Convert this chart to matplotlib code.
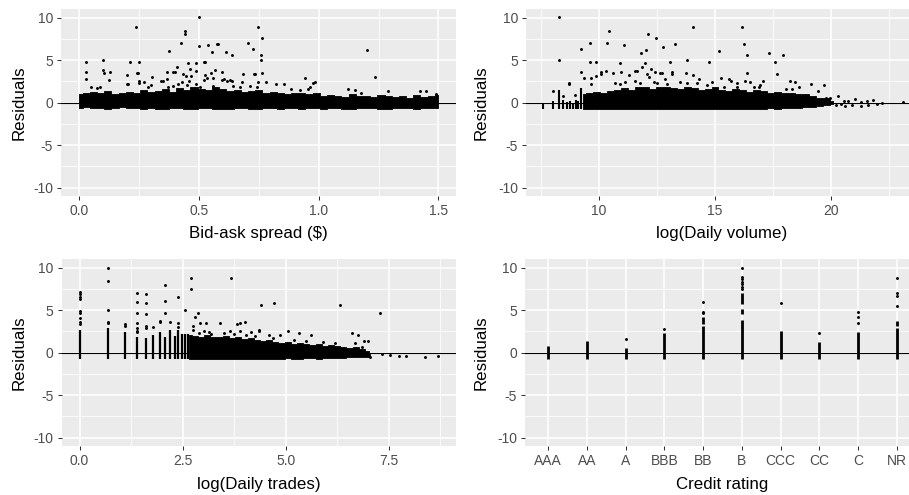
import matplotlib
matplotlib.use("Agg")
import matplotlib.pyplot as plt

plt.rcParams['font.family'] = ['Liberation Sans', 'DejaVu Sans']
plt.rcParams['axes.unicode_minus'] = False

# ---------------- data ----------------
# Bid-ask spread panel: dense band envelope and sparse residuals
spread_band_x = [0.00, 0.03, 0.06, 0.09, 0.12, 0.15, 0.18, 0.21, 0.24, 0.27, 0.30, 0.33, 0.36,
                 0.39, 0.42, 0.45, 0.48, 0.51, 0.54, 0.57, 0.60, 0.63, 0.66, 0.69, 0.72, 0.75,
                 0.78, 0.81, 0.84, 0.87, 0.90, 0.93, 0.96, 0.99, 1.02, 1.05, 1.08, 1.11, 1.14,
                 1.17, 1.20, 1.23, 1.26, 1.29, 1.32, 1.35, 1.38, 1.41, 1.44, 1.47, 1.50]
spread_band_hi = [1.0, 1.2, 1.3, 1.1, 1.4, 1.0, 1.1, 1.3, 1.2, 1.5, 1.3, 1.4, 1.6, 1.3, 1.7,
                  1.5, 1.8, 1.6, 1.5, 1.8, 1.6, 1.4, 1.5, 1.3, 1.4, 1.5, 1.2, 1.3, 1.2, 1.0,
                  1.2, 1.1, 1.0, 1.2, 0.8, 0.9, 0.8, 0.7, 1.0, 0.8, 0.8, 0.7, 0.9, 0.8, 0.7,
                  0.8, 0.6, 0.9, 0.7, 0.8, 0.9]
spread_band_lo = [-0.6, -0.55, -0.6, -0.65, -0.7, -0.6, -0.55, -0.6, -0.65, -0.7, -0.6, -0.75,
                  -0.7, -0.6, -0.65, -0.7, -0.75, -0.65, -0.6, -0.7, -0.75, -0.7, -0.65, -0.6,
                  -0.7, -0.7, -0.6, -0.65, -0.7, -0.6, -0.6, -0.7, -0.65, -0.6, -0.7, -0.65,
                  -0.6, -0.7, -0.7, -0.6, -0.65, -0.6, -0.7, -0.7, -0.6, -0.65, -0.6, -0.7,
                  -0.65, -0.6, -0.6]
spread_x = [0.237, 0.501, 0.444, 0.444, 0.426, 0.376, 0.501, 0.540, 0.575, 0.580, 0.555, 0.615,
            0.640, 0.707, 0.725, 0.745, 0.763, 0.760, 0.760, 0.762, 0.735, 1.202, 1.237, 0.941,
            0.985, 0.975, 0.029, 0.029, 0.029, 0.099, 0.100, 0.105, 0.129, 0.214, 0.250, 0.199,
            0.240, 0.246, 0.250, 0.250, 0.273, 0.306, 0.127, 0.369, 0.394, 0.401, 0.409, 0.433,
            0.456, 0.465, 0.486, 0.488, 0.523, 0.527, 0.526, 0.550, 0.569, 0.597, 0.557, 0.342,
            0.352, 0.369, 0.686, 0.731, 0.628, 0.640, 0.679, 0.468, 0.448, 0.459, 0.522, 0.536,
            0.596, 0.607, 0.617, 0.200, 0.206, 0.050, 0.074, 0.088, 0.288, 0.302, 0.415, 0.429,
            0.488, 1.122, 1.152, 1.177, 1.289, 1.424, 1.448, 1.490, 0.856, 0.821, 0.781, 0.746,
            0.885, 0.923, 0.957, 0.966, 0.370, 0.394, 0.450, 0.505, 0.560, 0.644, 0.672, 0.714,
            0.742]
spread_y = [8.90, 10.05, 8.47, 8.05, 7.02, 6.05, 6.63, 6.75, 6.90, 6.90, 5.93, 5.93,
            5.65, 7.02, 6.32, 8.90, 7.60, 5.60, 5.02, 3.50, 3.38, 6.16, 3.06, 2.90,
            2.40, 2.30, 4.75, 3.65, 2.79, 5.06, 3.80, 3.53, 3.65, 4.75, 4.75, 3.26,
            3.53, 3.53, 2.60, 2.35, 2.43, 3.06, 2.67, 3.65, 3.65, 3.65, 4.16, 3.38,
            4.63, 4.00, 4.63, 3.77, 4.75, 4.75, 3.30, 3.53, 3.80, 3.65, 2.87, 2.60,
            2.60, 2.75, 3.41, 3.41, 2.70, 2.55, 2.40, 3.18, 3.18, 2.60, 2.70, 2.90,
            2.65, 2.80, 2.55, 2.20, 2.25, 1.80, 1.73, 1.88, 1.88, 2.04, 2.20, 2.43,
            2.20, 1.65, 1.49, 1.18, 1.37, 1.37, 1.37, 0.99, 2.20, 2.20, 2.47, 2.47,
            1.65, 1.49, 1.65, 1.81, 1.80, 1.96, 2.08, 1.88, 1.96, 1.96, 1.80, 1.96,
            1.80]

# log(Daily volume) panel
volume_stub_x = [7.59, 8.02, 8.28, 8.45, 8.60, 8.74, 8.89, 9.00, 9.10, 9.21]
volume_stub_hi = [-0.1, 0.25, 1.5, 0.3, 0.1, 0.2, 0.0, 0.3, 0.2, 1.77]
volume_stub_lo = [-0.8, -0.75, -0.75, -0.75, -0.75, -0.75, -0.75, -0.75, -0.75, -0.75]
volume_band_x = [9.3, 9.6, 9.9, 10.2, 10.5, 10.8, 11.1, 11.4, 11.7, 12.0, 12.3, 12.6, 12.9,
                 13.2, 13.5, 13.8, 14.1, 14.4, 14.7, 15.0, 15.3, 15.6, 15.9, 16.2, 16.5, 16.8,
                 17.1, 17.4, 17.7, 18.0, 18.3, 18.6, 18.9, 19.2, 19.5, 19.8, 20.1]
volume_band_hi = [1.0, 1.1, 1.3, 1.2, 1.4, 1.5, 1.7, 1.5, 1.8, 1.9, 1.6, 1.8, 1.9, 1.7, 1.6,
                  1.8, 1.7, 1.5, 1.6, 1.8, 1.5, 1.4, 1.6, 1.5, 1.3, 1.5, 1.4, 1.2, 1.3, 1.2,
                  1.1, 1.0, 1.0, 0.8, 0.6, 0.5, 0.2]
volume_band_lo = [-0.7, -0.75, -0.7, -0.7, -0.75, -0.7, -0.75, -0.75, -0.7, -0.7, -0.75, -0.7,
                  -0.75, -0.75, -0.7, -0.7, -0.75, -0.7, -0.7, -0.75, -0.7, -0.75, -0.7, -0.7,
                  -0.7, -0.75, -0.7, -0.65, -0.7, -0.65, -0.6, -0.6, -0.55, -0.5, -0.4, -0.3,
                  -0.15]
volume_x = [8.28, 8.28, 10.45, 9.21, 9.62, 10.35, 11.08, 12.12, 12.44, 11.81, 12.01, 12.74,
            13.26, 14.04, 13.78, 13.05, 14.74, 9.62, 9.88, 10.92, 11.96, 9.21, 9.36, 9.67,
            9.88, 8.70, 8.72, 10.09, 10.09, 10.30, 10.62, 10.95, 11.30, 11.53, 11.62, 11.86,
            12.07, 12.17, 12.22, 12.43, 12.64, 12.72, 13.16, 13.16, 12.83, 13.76, 14.03, 14.30,
            8.02, 8.45, 8.96, 16.17, 16.23, 15.19, 16.39, 17.33, 17.95, 17.59, 17.69, 16.37,
            15.25, 15.61, 15.71, 17.08, 18.25, 18.47, 19.15, 19.68, 19.45, 18.61, 18.06, 18.32,
            16.69, 16.90, 15.39, 15.93, 15.95, 16.30, 16.50, 16.95, 19.80, 19.98, 20.30, 20.56,
            20.73, 21.05, 21.31, 21.54, 21.82, 22.18, 23.09, 20.45, 20.90, 21.30, 21.60, 22.00,
            20.20, 20.60, 9.65, 10.69, 10.91, 11.13, 11.56, 11.78, 12.36, 12.50, 12.93, 13.51,
            13.80, 14.23, 14.67, 14.89]
volume_y = [10.05, 5.02, 8.44, 6.32, 7.02, 7.02, 6.75, 8.05, 7.57, 5.89, 6.16, 6.59,
            6.90, 8.90, 5.02, 4.75, 4.75, 4.75, 4.75, 4.63, 4.63, 3.65, 2.90, 2.90,
            3.10, 2.35, 2.20, 3.60, 3.33, 3.77, 3.53, 3.65, 3.22, 3.77, 3.77, 4.16,
            3.38, 3.06, 4.00, 3.60, 3.53, 3.53, 3.60, 3.40, 2.75, 3.53, 3.22, 2.75,
            1.37, 0.79, 0.85, 8.90, 6.87, 6.05, 5.61, 5.89, 5.61, 4.75, 3.33, 3.49,
            2.90, 2.75, 2.60, 2.60, 2.60, 2.40, 2.20, 2.08, 1.34, 1.80, 1.60, 1.60,
            1.80, 1.80, 1.80, 1.90, 2.30, 2.50, 2.40, 2.10, 0.51, 0.51, 0.79, 0.24,
            0.24, 0.40, 0.12, 0.24, 0.33, -0.07, 0.12, -0.20, -0.25, -0.35, -0.30, -0.15,
            -0.30, -0.40, 2.20, 2.35, 2.20, 2.47, 2.55, 2.35, 2.47, 2.30, 2.20, 2.47,
            2.30, 2.35, 2.08, 2.47]

# log(Daily trades) panel: one column per small trade count, then a dense band
trades_stub_x = [0.000, 0.693, 1.099, 1.386, 1.609, 1.792, 1.946, 2.079, 2.197, 2.303,
                 2.398, 2.485, 2.565, 2.639]
trades_stub_hi = [2.67, 2.94, 2.47, 1.88, 1.77, 2.08, 2.47, 1.88, 2.63, 1.96, 2.63, 2.20,
                  2.20, 2.25]
trades_stub_lo = [-0.7] * 14
trades_band_x = [2.65, 2.8, 2.95, 3.1, 3.25, 3.4, 3.55, 3.7, 3.85, 4.0, 4.15, 4.3, 4.45, 4.6,
                 4.75, 4.9, 5.05, 5.2, 5.35, 5.5, 5.65, 5.8, 5.95, 6.1, 6.25, 6.4, 6.55, 6.7,
                 6.85, 7.0, 7.05]
trades_band_hi = [2.1, 2.0, 1.9, 2.1, 1.8, 1.9, 2.0, 1.7, 1.8, 1.6, 1.7, 1.5, 1.4, 1.5, 1.3,
                  1.2, 1.3, 1.0, 1.1, 1.0, 0.9, 1.0, 0.8, 0.9, 0.8, 0.7, 0.6, 0.7, 0.4, 0.2,
                  -0.1]
trades_band_lo = [-0.7, -0.75, -0.75, -0.7, -0.7, -0.75, -0.7, -0.7, -0.75, -0.7, -0.7, -0.75,
                  -0.7, -0.7, -0.75, -0.7, -0.65, -0.7, -0.7, -0.65, -0.65, -0.7, -0.6, -0.65,
                  -0.6, -0.6, -0.55, -0.55, -0.5, -0.5, -0.4]
trades_x = [0.000, 0.000, 0.000, 0.000, 0.000, 0.000, 0.000, 0.000, 0.000,
            0.693, 0.693, 0.693, 0.693, 0.693, 1.099, 1.099,
            1.386, 1.386, 1.386, 1.386, 1.386, 1.386, 1.386,
            1.609, 1.609, 1.609, 1.609, 1.609, 1.792, 1.946, 1.946,
            2.079, 2.079, 2.079, 2.197, 2.398, 2.398, 2.398, 2.565, 2.708, 2.708,
            3.68, 3.40, 2.88, 2.81, 2.93, 3.07, 3.82, 3.90, 4.01, 2.76, 2.76, 3.01,
            3.14, 3.66, 3.90, 4.16, 4.36, 4.41, 4.71, 6.31, 7.30, 4.36, 5.06, 5.32,
            5.61, 4.86, 4.59, 6.60, 6.75, 6.69, 6.89, 6.99, 6.86, 7.34, 7.54, 7.76,
            7.92, 8.39, 8.70, 7.04, 2.90, 3.20, 3.50, 3.75, 4.05, 4.25, 4.70, 5.20,
            5.50, 5.90, 6.20]
trades_y = [3.34, 3.61, 4.05, 4.63, 4.85, 6.28, 6.59, 6.87, 7.10,
            9.96, 8.40, 4.99, 3.65, 3.45, 3.40, 3.10,
            6.98, 5.96, 4.70, 3.53, 2.94, 2.60, 2.40,
            6.87, 5.85, 4.55, 3.10, 2.90, 3.02, 3.73, 3.60,
            7.96, 6.12, 4.70, 3.61, 6.55, 3.45, 2.98, 4.99, 8.83, 7.53,
            8.83, 3.45, 4.70, 4.16, 3.50, 3.45, 3.40, 3.45, 3.60, 3.10, 2.70, 2.60,
            2.40, 2.60, 2.60, 2.40, 2.60, 5.57, 5.85, 5.57, 4.71, 2.71, 2.59, 2.32,
            2.05, 2.05, 2.13, 2.32, 2.05, 1.18, 1.34, 1.34, 0.71, -0.15, -0.24, -0.39,
            -0.39, -0.54, -0.39, -0.54, 2.30, 2.20, 2.30, 2.20, 2.10, 2.00, 1.70, 1.50,
            1.40, 1.30, 1.10]

# Credit rating panel
ratings = ['AAA', 'AA', 'A', 'BBB', 'BB', 'B', 'CCC', 'CC', 'C', 'NR']
rating_seg_cat = ['AAA', 'AA', 'A', 'BBB', 'BB', 'BB', 'B', 'B', 'B', 'CCC', 'CC', 'C',
                  'NR', 'NR']
rating_seg_lo = [-0.7, -0.7, -0.7, -0.7, -0.7, 3.40, -0.7, 4.52, 5.69, -0.7, -0.7, -0.7,
                 -0.7, 3.14]
rating_seg_hi = [0.79, 1.34, 0.59, 2.35, 3.14, 4.15, 3.85, 5.10, 6.98, 2.59, 1.30, 2.43,
                 2.87, 3.70]
rating_pt_cat = ['A', 'BBB', 'BB', 'BB', 'BB', 'B', 'B', 'B', 'B', 'B', 'B', 'B',
                 'CCC', 'CC', 'C', 'C', 'C', 'NR', 'NR', 'NR', 'NR']
rating_pt_y = [1.57, 2.75, 4.63, 4.80, 5.96, 7.46, 7.77, 8.04, 8.35, 8.67, 8.94, 9.96,
               5.85, 2.32, 3.45, 4.16, 4.75, 5.53, 6.67, 6.98, 8.83]

# ---------------- layout ----------------
W, H = 909, 495
fig = plt.figure(figsize=(W / 100, H / 100), dpi=100)
GREY_BG = '#EBEBEB'
TICK_TXT = '#4D4D4D'


def add_panel(left, top, right, bottom):
    return fig.add_axes([left / W, 1 - bottom / H, (right - left) / W, (bottom - top) / H])


def style(ax, xlim):
    ax.set_facecolor(GREY_BG)
    ax.set_xlim(*xlim)
    ax.set_ylim(-11, 11)
    ax.set_yticks([-10, -5, 0, 5, 10])
    ax.set_yticklabels(['-10', '-5', '0', '5', '10'])
    ax.set_yticks([-7.5, -2.5, 2.5, 7.5], minor=True)
    ax.grid(which='major', color='white', lw=1.1)
    ax.grid(which='minor', color='white', lw=0.55)
    ax.set_axisbelow(True)
    for s in ax.spines.values():
        s.set_visible(False)
    ax.tick_params(which='major', length=2.8, width=0.75, color='#333333',
                   labelsize=10, labelcolor=TICK_TXT, pad=3)
    ax.tick_params(which='minor', length=0)
    ax.axhline(0, color='black', lw=0.8, zorder=2)


PT = dict(s=4.5, c='black', marker='o', linewidths=0, zorder=3)
BAND = dict(color='black', lw=0.6, edgecolor='black', zorder=3, step='mid')

# Panel 1: bid-ask spread
ax1 = add_panel(61.1, 9.2, 456.4, 196.2)
style(ax1, (-0.075, 1.575))
ax1.set_xticks([0.0, 0.5, 1.0, 1.5])
ax1.set_xticklabels(['0.0', '0.5', '1.0', '1.5'])
ax1.set_xticks([0.25, 0.75, 1.25], minor=True)
ax1.fill_between(spread_band_x, spread_band_lo, spread_band_hi, **BAND)
ax1.scatter(spread_x, spread_y, **PT)

# Panel 2: log daily volume
ax2 = add_panel(526, 9.2, 920, 196.2)
style(ax2, (6.85, 23.84))
ax2.set_xticks([10, 15, 20])
ax2.set_xticklabels(['10', '15', '20'])
ax2.set_xticks([7.5, 12.5, 17.5, 22.5], minor=True)
ax2.vlines(volume_stub_x, volume_stub_lo, volume_stub_hi, color='black', lw=1.5, zorder=3)
ax2.fill_between(volume_band_x, volume_band_lo, volume_band_hi, **BAND)
ax2.scatter(volume_x, volume_y, **PT)

# Panel 3: log daily trades
ax3 = add_panel(61.7, 259.2, 456.0, 446.2)
style(ax3, (-0.435, 9.135))
ax3.set_xticks([0.0, 2.5, 5.0, 7.5])
ax3.set_xticklabels(['0.0', '2.5', '5.0', '7.5'])
ax3.set_xticks([1.25, 3.75, 6.25, 8.75], minor=True)
ax3.vlines(trades_stub_x, trades_stub_lo, trades_stub_hi, color='black', lw=1.6, zorder=3)
ax3.fill_between(trades_band_x, trades_band_lo, trades_band_hi, **BAND)
ax3.scatter(trades_x, trades_y, **PT)

# Panel 4: credit rating
ax4 = add_panel(525, 259.2, 920, 446.2)
style(ax4, (0.4, 10.6))
pos = {r: i + 1 for i, r in enumerate(ratings)}
ax4.set_xticks([pos[r] for r in ratings])
ax4.set_xticklabels(ratings)
ax4.vlines([pos[c] for c in rating_seg_cat], rating_seg_lo, rating_seg_hi,
           color='black', lw=2.0, zorder=3)
ax4.scatter([pos[c] for c in rating_pt_cat], rating_pt_y, **PT)

# Axis titles
TITLE = dict(fontsize=12.2, color='black', ha='center', va='center')
for (xc, yc) in [(19.2, 102.7), (481.5, 102.7), (19.2, 352.7), (481.5, 352.7)]:
    fig.text(xc / W, 1 - yc / H, 'Residuals', rotation=90, **TITLE)
fig.text(258.6 / W, 1 - 234 / H, 'Bid-ask spread ($)', **TITLE)
fig.text(721.7 / W, 1 - 234 / H, 'log(Daily volume)', **TITLE)
fig.text(258.6 / W, 1 - 484 / H, 'log(Daily trades)', **TITLE)
fig.text(721.7 / W, 1 - 484 / H, 'Credit rating', **TITLE)

fig.savefig('out.png', dpi=100, facecolor='white')
